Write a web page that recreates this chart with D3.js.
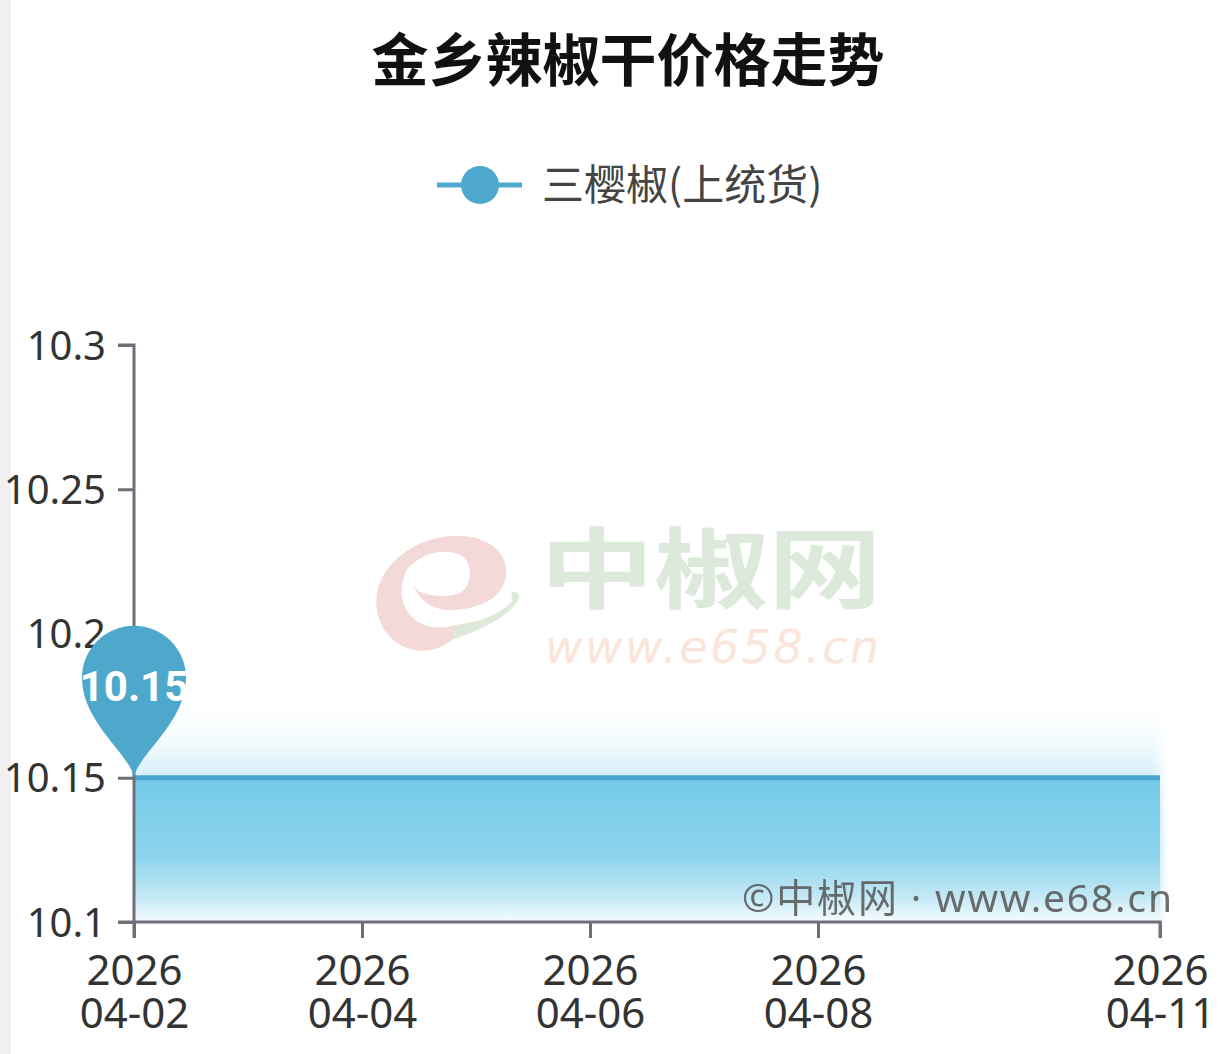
<!DOCTYPE html>
<html><head><meta charset="utf-8">
<script src="https://cdn.jsdelivr.net/npm/d3@7/dist/d3.min.js"></script>
<style>
html,body{margin:0;padding:0;background:#fff;}
svg{display:block;}
</style></head>
<body>
<svg id="c" width="1227" height="1054"></svg>
<script>
const title = "金乡辣椒干价格走势";
const seriesName = "三樱椒(上统货)";
const dates = ["2026-04-02","2026-04-03","2026-04-04","2026-04-05","2026-04-06","2026-04-07","2026-04-08","2026-04-09","2026-04-10","2026-04-11"];
const values = [10.15,10.15,10.15,10.15,10.15,10.15,10.15,10.15,10.15,10.15];
const yTicks = [10.1,10.15,10.2,10.25,10.3];
const xTickDates = ["2026-04-02","2026-04-04","2026-04-06","2026-04-08","2026-04-11"];
const copyright = "©中椒网 · www.e68.cn";

const parse = d3.timeParse("%Y-%m-%d");
const data = dates.map((d,i)=>({date:parse(d), value:values[i]}));

const svg = d3.select("#c");
const W = 1227, H = 1054;
const m = {left:134, right:67, top:345, bottom:132};
const x = d3.scaleTime().domain([parse(dates[0]), parse(dates[dates.length-1])]).range([m.left, W-m.right]);
const y = d3.scaleLinear().domain([10.1,10.3]).range([H-m.bottom, m.top]);

const defs = svg.append("defs");
const grad = defs.append("linearGradient").attr("id","ag").attr("x1",0).attr("y1",0).attr("x2",0).attr("y2",1);
grad.append("stop").attr("offset","0%").attr("stop-color","#74cae8");
grad.append("stop").attr("offset","55%").attr("stop-color","#8ed4ed");
grad.append("stop").attr("offset","82%").attr("stop-color","#c2e8f5");
grad.append("stop").attr("offset","100%").attr("stop-color","#f7fcfe");
const blur = defs.append("filter").attr("id","glow").attr("x","-10%").attr("y","-150%").attr("width","120%").attr("height","400%");
blur.append("feGaussianBlur").attr("stdDeviation","5 36");
defs.append("clipPath").attr("id","gclip").append("rect")
  .attr("x",m.left).attr("y",0).attr("width",W-m.right-m.left+8).attr("height",y(10.1));

// left gray strip
svg.append("rect").attr("x",0).attr("y",0).attr("width",11).attr("height",H).attr("fill","#f0f0f0");

// watermark
const wm = svg.append("g");
wm.append("path")
  .attr("d","M455,637 C430,662 388,652 378,615 C368,575 405,540 450,536 C490,533 512,556 505,580 " +
            "C500,598 482,608 455,610 C435,612 418,600 414,586 C420,596 440,598 458,594 " +
            "C472,588 474,565 462,556 C448,547 420,552 407,570 C397,588 400,612 420,623 C432,629 445,628 455,625 Z")
  .attr("fill","#f4d9d9");
wm.append("path")
  .attr("d","M452,640 C480,630 506,618 517,602 C521,596 518,591 512,592 C510,596 514,598 511,602 C500,615 478,622 455,625 Z")
  .attr("fill","#dde9d9");
wm.append("text").attr("x",540).attr("y",601)
  .attr("font-family","'Noto Sans CJK SC'").attr("font-weight",700).attr("font-size",88)
  .attr("textLength",342).attr("lengthAdjust","spacingAndGlyphs")
  .attr("fill","#dce9db").text("中椒网");
wm.append("text").attr("x",712).attr("y",663).attr("text-anchor","middle")
  .attr("font-family","'DejaVu Sans', sans-serif").attr("font-style","italic").attr("font-size",46)
  .attr("fill","#fbe5da").attr("textLength",334).text("www.e658.cn");

// title
svg.append("text").attr("x",628).attr("y",81).attr("text-anchor","middle")
  .attr("font-family","'Noto Sans CJK SC'").attr("font-weight",700).attr("font-size",57)
  .attr("fill","#111").text(title);

// legend
const lg = svg.append("g");
lg.append("line").attr("x1",437).attr("x2",522).attr("y1",185).attr("y2",185).attr("stroke","#4fa9cf").attr("stroke-width",5);
lg.append("circle").attr("cx",480).attr("cy",185).attr("r",19).attr("fill","#4fa9cf");
lg.append("text").attr("x",542).attr("y",200).attr("font-family","'Noto Sans CJK SC'").attr("font-size",42)
  .attr("fill","#444").text(seriesName);

// area glow + area
const area = d3.area().x(d=>x(d.date)).y0(y(10.1)).y1(d=>y(d.value));
svg.append("g").attr("clip-path","url(#gclip)")
  .append("path").datum(data).attr("d",area).attr("fill","#a3dcf1").attr("opacity",0.95).attr("filter","url(#glow)");
svg.append("path").datum(data).attr("d",area).attr("fill","url(#ag)");

// copyright
svg.append("text").attr("x",1172).attr("y",912).attr("text-anchor","end")
  .attr("font-family","'Noto Sans', 'Noto Sans CJK SC'").attr("font-size",39)
  .attr("textLength",430)
  .attr("fill","#555").attr("opacity",0.85).text(copyright);

// line
const line = d3.line().x(d=>x(d.date)).y(d=>y(d.value));
svg.append("path").datum(data).attr("d",line).attr("fill","none").attr("stroke","#4aa5cf").attr("stroke-width",5);

// axes
const axisColor = "#6e7079";
const yAxis = svg.append("g").attr("transform",`translate(${m.left},0)`)
  .call(d3.axisLeft(y).tickValues(yTicks).tickSize(16).tickPadding(12).tickFormat(d=>d3.format("")(+d.toFixed(2))));
const xAxis = svg.append("g").attr("transform",`translate(0,${y(10.1)})`)
  .call(d3.axisBottom(x).tickValues(xTickDates.map(parse)).tickSize(16).tickFormat(()=>""));
[yAxis,xAxis].forEach(g=>{
  g.select(".domain").attr("stroke",axisColor).attr("stroke-width",3);
  g.selectAll(".tick line").attr("stroke",axisColor).attr("stroke-width",3);
});
yAxis.select(".domain").attr("d",`M-16,${y(10.3)}H0V${y(10.1)+16}`);
xAxis.select(".domain").attr("d",`M${m.left-16},0H${W-m.right}V16`);
yAxis.selectAll(".tick text").attr("font-family","'Noto Sans', sans-serif").attr("font-size",40).attr("fill","#333").attr("dy","0.35em");
xAxis.selectAll(".tick").each(function(d){
  const t = d3.select(this).select("text");
  t.text(null).attr("font-family","'Noto Sans', sans-serif").attr("font-size",42).attr("fill","#333").attr("dy",null).attr("y",0);
  t.append("tspan").attr("x",0).attr("y",63).text(d3.timeFormat("%Y")(d));
  t.append("tspan").attr("x",0).attr("y",106).text(d3.timeFormat("%m-%d")(d));
});

// pin marker at first point
const px = x(data[0].date), py = y(data[0].value);
const r = 52, cy = py - 100;
svg.append("path")
  .attr("d",`M${px},${py} C${px-4},${py-24} ${px-r},${cy+45} ${px-r},${cy} A${r},${r} 0 1 1 ${px+r},${cy} C${px+r},${cy+45} ${px+4},${py-24} ${px},${py} Z`)
  .attr("fill","#4ea8cc");
svg.append("text").attr("x",px).attr("y",cy+23).attr("text-anchor","middle")
  .attr("font-family","Roboto, 'Noto Sans', sans-serif").attr("font-weight",700).attr("font-size",42)
  .attr("fill","#fff").text(d3.format(".2f")(data[0].value));
</script>
</body></html>
